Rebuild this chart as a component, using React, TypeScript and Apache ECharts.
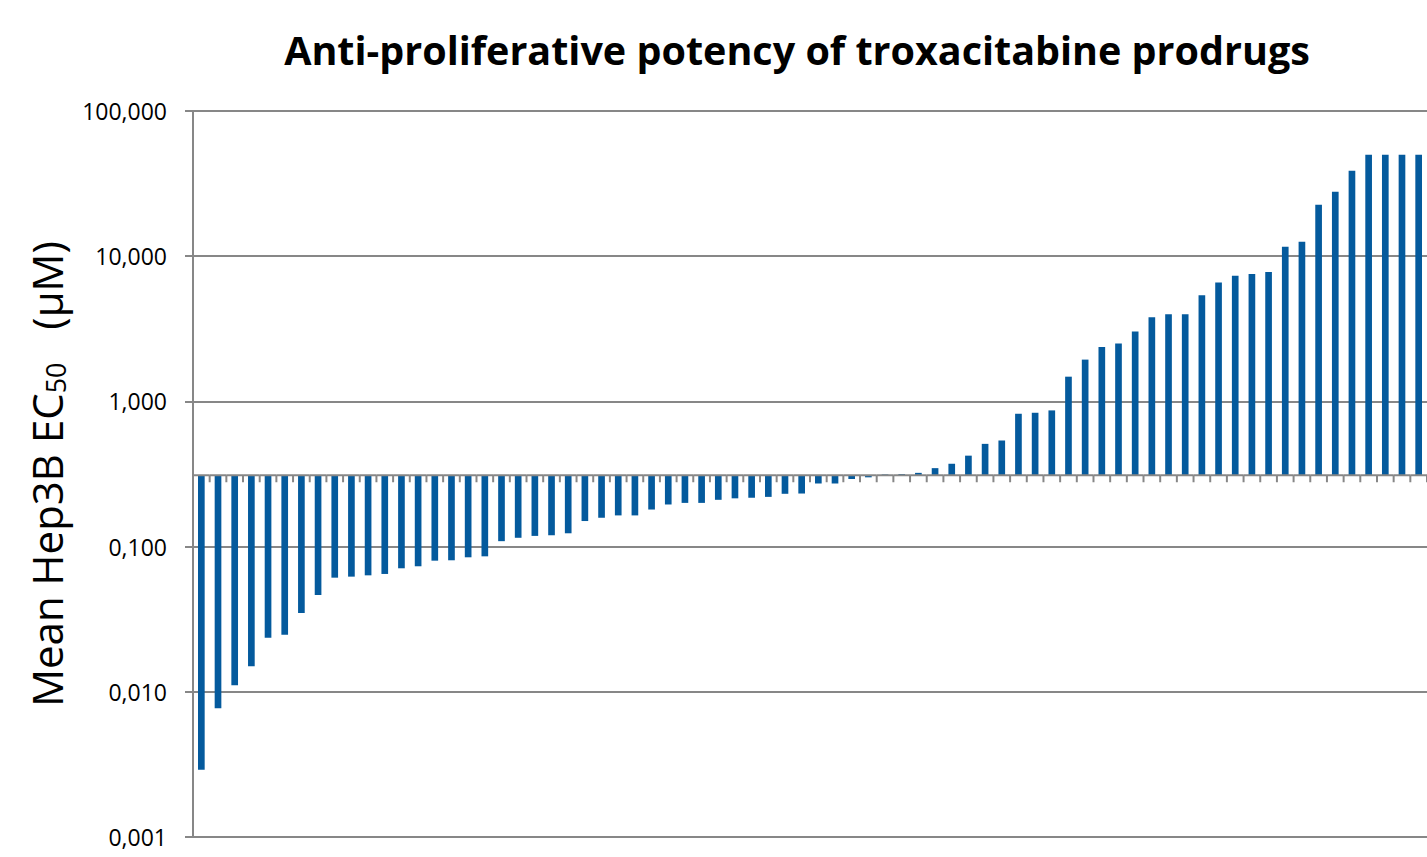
import React, { useEffect, useRef } from 'react';
import * as echarts from 'echarts';

const TITLE = 'Anti-proliferative potency of troxacitabine prodrugs';
const Y_NAME = 'Mean Hep3B EC{sub|50}   (µM)';
const BASELINE = 0.31; // value where the horizontal axis crosses the log axis

// Mean Hep3B EC50 (µM), one per prodrug, sorted ascending
const ec50Values: number[] = [
  0.0029, 0.0077, 0.0111, 0.015, 0.0236, 0.0247, 0.0349, 0.0464, 0.0611, 0.0621,
  0.0634, 0.0648, 0.0709, 0.0732, 0.08, 0.0805, 0.0844, 0.0857, 0.109, 0.115,
  0.1185, 0.1197, 0.1235, 0.15, 0.158, 0.164, 0.164, 0.18, 0.195, 0.2,
  0.2, 0.21, 0.215, 0.217, 0.22, 0.231, 0.232, 0.272, 0.272, 0.292,
  0.3, 0.314, 0.316, 0.322, 0.347, 0.372, 0.423, 0.51, 0.538, 0.822,
  0.835, 0.867, 1.48, 1.94, 2.37, 2.5, 3.03, 3.8, 3.98, 3.98,
  5.38, 6.59, 7.32, 7.55, 7.79, 11.6, 12.6, 22.6, 27.8, 38.7,
  50, 50, 50, 50,
];

const compounds: string[] = ec50Values.map((_, i) => `Prodrug ${i + 1}`);

const yTickValues: number[] = [0.001, 0.01, 0.1, 1, 10, 100];

const BAR_COLOR = '#045A9D';
const AXIS_COLOR = '#878787';

export default function App() {
  const ref = useRef<HTMLDivElement>(null);

  useEffect(() => {
    document.body.style.margin = '0';
    if (!ref.current) return;
    const chart = echarts.init(ref.current, undefined, { renderer: 'svg' });

    const renderItem = (params: any, api: any) => {
      const idx = api.value(0);
      const val = api.value(1);
      const top = api.coord([idx, val]);
      const base = api.coord([idx, BASELINE]);
      const band = api.size([1, 0])[0];
      const barW = band * 0.4;
      const y0 = Math.min(top[1], base[1]);
      const h = Math.max(Math.abs(top[1] - base[1]), 1);
      return {
        type: 'group',
        children: [
          {
            type: 'rect',
            shape: { x: top[0] - barW / 2, y: y0, width: barW, height: h },
            style: { fill: BAR_COLOR },
          },
          {
            type: 'line',
            shape: { x1: base[0] - band / 2, y1: base[1], x2: base[0] + band / 2, y2: base[1] },
            style: { stroke: AXIS_COLOR, lineWidth: 2 },
          },
          {
            type: 'line',
            shape: { x1: base[0] + band / 2, y1: base[1], x2: base[0] + band / 2, y2: base[1] + 7 },
            style: { stroke: AXIS_COLOR, lineWidth: 2 },
          },
        ],
      };
    };

    chart.setOption({
      animation: false,
      title: {
        text: TITLE,
        left: 797,
        top: 30,
        padding: 0,
        textAlign: 'center',
        textStyle: { fontFamily: 'Open Sans', fontWeight: 'bold', fontSize: 39.5, color: '#000' },
      },
      grid: { left: 193, right: -5.5, top: 111, bottom: 20, containLabel: false },
      xAxis: {
        type: 'category',
        data: compounds,
        axisLine: { show: false },
        axisTick: { show: false },
        axisLabel: { show: false },
        splitLine: { show: false },
      },
      yAxis: {
        type: 'log',
        logBase: 10,
        min: yTickValues[0],
        max: yTickValues[yTickValues.length - 1],
        axisLine: { show: true, lineStyle: { color: AXIS_COLOR, width: 2 } },
        axisTick: { show: true, length: 8, lineStyle: { color: AXIS_COLOR, width: 2 } },
        axisLabel: {
          margin: 26,
          fontFamily: 'Open Sans',
          fontSize: 23,
          color: '#000',
          formatter: (v: number) => v.toFixed(3).replace('.', ','),
        },
        splitLine: { show: true, lineStyle: { color: AXIS_COLOR, width: 2 } },
        name: Y_NAME,
        nameLocation: 'middle',
        nameRotate: 90,
        nameGap: 124,
        nameTextStyle: {
          fontFamily: 'Open Sans',
          fontSize: 42,
          color: '#000',
          rich: {
            sub: { fontFamily: 'Open Sans', fontSize: 27, color: '#000', padding: [18, 0, 0, 0] },
          },
        },
      },
      series: [
        {
          type: 'custom',
          renderItem,
          clip: false,
          encode: { x: 0, y: 1 },
          data: ec50Values.map((v, i) => [i, v]),
        },
      ],
    });

    return () => chart.dispose();
  }, []);

  return <div ref={ref} style={{ width: 1427, height: 857 }} />;
}
